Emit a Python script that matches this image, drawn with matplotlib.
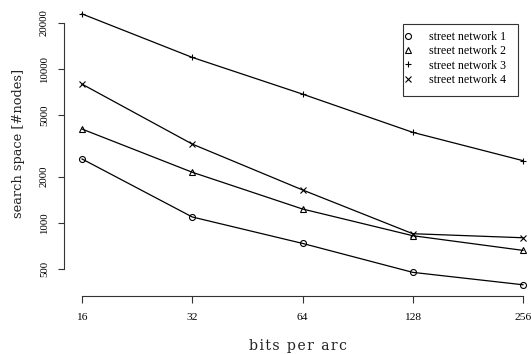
import matplotlib
matplotlib.use("Agg")
import matplotlib.pyplot as plt
from matplotlib.ticker import FixedLocator, NullLocator, FixedFormatter
from matplotlib.patches import Rectangle
import numpy as np

bits = [16, 32, 64, 128, 256]
sn1 = [2606, 1094, 737, 478, 397]
sn2 = [4075, 2136, 1233, 827, 664]
sn3 = [22800, 11900, 6875, 3880, 2540]
sn4 = [7980, 3255, 1640, 852, 802]
series_names = ["street network 1", "street network 2", "street network 3", "street network 4"]
y_ticks = [500, 1000, 2000, 5000, 10000, 20000]

W, H = 531, 354
fig = plt.figure(figsize=(W / 100, H / 100), dpi=100)
left, right, top, bottom = 64.4, 540.6, 3.1, 295.6
ax = fig.add_axes([left / W, 1 - bottom / H, (right - left) / W, (bottom - top) / H])
ax.set_xscale("log", base=2)
ax.set_yscale("log")

markers = ["o", "^", "+", "x"]
for vals, m, name in zip([sn1, sn2, sn3, sn4], markers, series_names):
    ax.plot(bits, vals, color="black", lw=0.9, marker=m, markersize=5 if m in "+x" else 4.3,
            markerfacecolor="none", markeredgecolor="black", markeredgewidth=0.8, label=name,
            clip_on=False)

lx = np.log2(16), np.log2(256)
pad = 0.04 * (lx[1] - lx[0])
ax.set_xlim(2 ** (lx[0] - pad), 2 ** (lx[1] + pad))
ly = np.log10(min(sn1)), np.log10(max(sn3))
pady = 0.04 * (ly[1] - ly[0])
ax.set_ylim(10 ** (ly[0] - pady), 10 ** (ly[1] + pady))

ax.spines["top"].set_visible(False)
ax.spines["right"].set_visible(False)
ax.spines["left"].set_bounds(500, 20000)
ax.spines["bottom"].set_bounds(16, 256)
for s in ("left", "bottom"):
    ax.spines[s].set_linewidth(0.8)
    ax.spines[s].set_color("#333333")

ax.xaxis.set_major_locator(FixedLocator(bits))
ax.xaxis.set_major_formatter(FixedFormatter([str(b) for b in bits]))
ax.xaxis.set_minor_locator(NullLocator())
ax.yaxis.set_major_locator(FixedLocator(y_ticks))
ax.yaxis.set_major_formatter(FixedFormatter([str(v) for v in y_ticks]))
ax.yaxis.set_minor_locator(NullLocator())
ax.tick_params(axis="both", direction="out", width=0.8, color="#333333")
ax.tick_params(axis="x", length=5, pad=7.5)
ax.tick_params(axis="y", length=4.5, pad=6.7)
for lab in ax.get_xticklabels():
    lab.set_fontfamily("Liberation Serif"); lab.set_fontsize(8.2)
for lab in ax.get_yticklabels():
    lab.set_fontfamily("Liberation Serif"); lab.set_fontsize(7.8)
    lab.set_rotation(90); lab.set_va("center")

def spaced(s):
    return "\u200a".join(s)

fig.text(298 / W, 1 - 346 / H, spaced("bits per arc"),
         ha="center", va="center", fontsize=10.2, family="DejaVu Serif", color="#222222")
fig.text(18.3 / W, 1 - 143.5 / H, "search space [#nodes]", ha="center", va="center",
         rotation=90, fontsize=9.4, family="DejaVu Serif", color="#222222")

# legend frame
ax.add_patch(Rectangle((402.7 / W, 1 - 96 / H), (517.7 - 402.7) / W, (96 - 24) / H,
                       transform=fig.transFigure, facecolor="white", clip_on=False,
                       edgecolor="#333333", linewidth=0.8, zorder=5))
leg = ax.legend(loc="upper left", bbox_to_anchor=(403.6 / W, 1 - 30.8 / H),
                bbox_transform=fig.transFigure, borderaxespad=0, borderpad=0,
                frameon=False, handlelength=0.8, handletextpad=1.3,
                labelspacing=0.2, prop={"family": "Liberation Serif", "size": 8.6})
leg.set_zorder(6)
for h in leg.legend_handles:
    h.set_linestyle("none")

fig.savefig("out.png", dpi=100)
